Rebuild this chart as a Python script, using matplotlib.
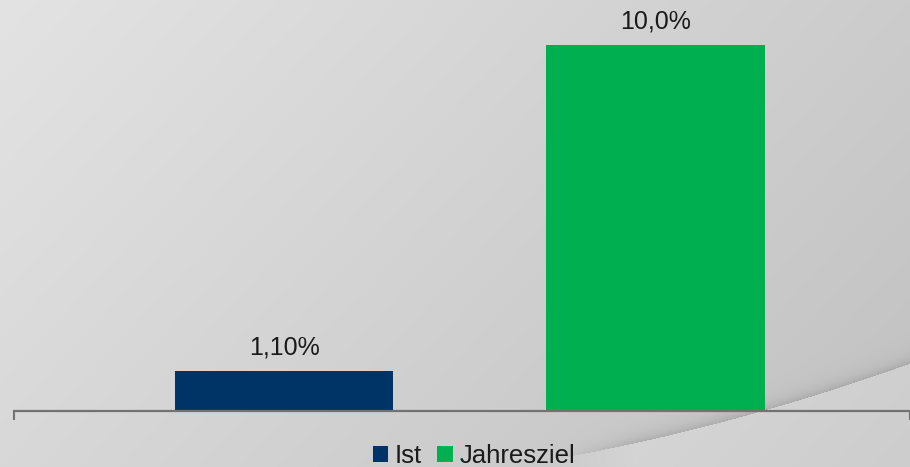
import numpy as np
import matplotlib
matplotlib.use('Agg')
import matplotlib.pyplot as plt

categories = ['Ist', 'Jahresziel']
values = [1.10, 10.0]
labels = ['1,10%', '10,0%']
colors = ['#003366', '#00B050']

W, H = 910, 467
plt.rcParams['font.family'] = ['Liberation Sans', 'DejaVu Sans']
fig = plt.figure(figsize=(W / 100, H / 100), dpi=100)
fig.patch.set_facecolor('#d8d8d8')

# decorative background: diagonal grey gradient with a light swoosh bottom right
yy, xx = np.mgrid[0:H, 0:W].astype(float)
base = 227 - 23 * xx / W - 11 * yy / H
yc = -0.0002516 * xx ** 2 + 0.0993 * xx + 481.0
d = yc - yy
fade = np.clip((xx - 545) / 90, 0, 1)
bg = np.where(d > 0, base - 26 * fade * np.exp(-d / 7), base + 12 * fade)
bg = np.clip(bg, 0, 255) / 255
img = np.dstack([bg, bg, bg])
fig.figimage(img, xo=0, yo=0, origin='upper', zorder=-10)

ax = fig.add_axes([14 / W, (H - 411) / H, (W - 14) / W, 411 / H])
ax.set_zorder(2)
ax.patch.set_alpha(0)
x = np.arange(len(values))
bars = ax.bar(x, values, width=0.587, color=colors, zorder=2)
ax.set_xlim(-0.7268, 1.685)
ax.set_ylim(0, 11.22)
ax.bar_label(bars, labels=labels, padding=8, fontsize=18, color='#1a1a1a')

for s in ['top', 'left', 'right']:
    ax.spines[s].set_visible(False)
ax.spines['bottom'].set_color('#727272')
ax.spines['bottom'].set_linewidth(1.6)
ax.set_yticks([])
ax.set_xticks([-0.7268, 1.685])
ax.set_xticklabels(['', ''])
ax.tick_params(axis='x', direction='out', length=6.5, width=1.5, color='#727272')

leg = fig.legend(bars.patches, categories, loc='center',
                 bbox_to_anchor=(474 / W, 1 - 456 / H), ncol=2, frameon=False,
                 fontsize=18.5, handlelength=0.6, handleheight=0.6, handletextpad=0.25,
                 columnspacing=0.6, borderpad=0, labelcolor='#1a1a1a')
leg.set_zorder(3)

fig.savefig('out.png', dpi=100)
